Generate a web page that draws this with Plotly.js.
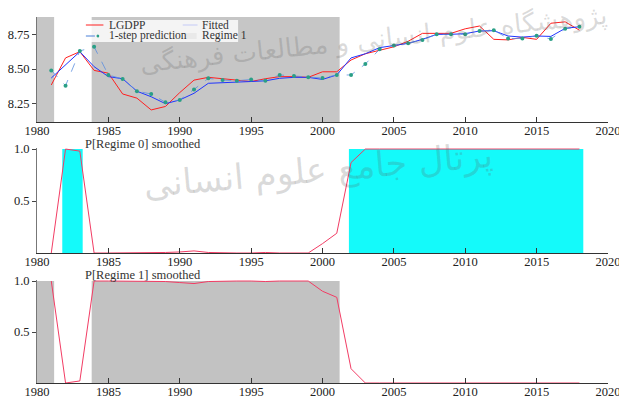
<!DOCTYPE html>
<html>
<head>
<meta charset="utf-8">
<script src="https://cdn.plot.ly/plotly-3.0.1.min.js"></script>
<style>html,body{margin:0;padding:0;background:#fff;}#chart{width:619px;height:400px;}</style>
</head>
<body>
<div id="chart"></div>
<script>
// ---- data ----
const years = [1981,1982,1983,1984,1985,1986,1987,1988,1989,1990,1991,1992,1993,1994,1995,1996,1997,1998,1999,2000,2001,2002,2003,2004,2005,2006,2007,2008,2009,2010,2011,2012,2013,2014,2015,2016,2017,2018];
const lgdpp = [8.385,8.58,8.625,8.49,8.47,8.32,8.29,8.205,8.23,8.33,8.42,8.44,8.43,8.42,8.41,8.43,8.445,8.445,8.44,8.48,8.48,8.565,8.61,8.635,8.66,8.70,8.757,8.757,8.757,8.79,8.81,8.714,8.71,8.728,8.714,8.83,8.84,8.78];
const fitted = [8.435,8.53,8.625,8.517,8.445,8.43,8.34,8.30,8.25,8.277,8.325,8.397,8.40,8.405,8.41,8.415,8.433,8.44,8.44,8.425,8.457,8.58,8.61,8.654,8.67,8.685,8.714,8.75,8.75,8.755,8.774,8.776,8.738,8.73,8.738,8.735,8.793,8.805];
const prediction = [8.49,8.38,8.63,8.66,8.457,8.428,8.34,8.32,8.26,8.277,8.353,8.433,8.42,8.415,8.425,8.415,8.457,8.45,8.44,8.435,8.457,8.457,8.536,8.642,8.67,8.685,8.71,8.75,8.75,8.75,8.774,8.78,8.72,8.72,8.74,8.716,8.79,8.805];
const probRegime0 = [0,1.0,0.98,0,0,0,0,0,0.005,0.01,0.02,0.005,0,0,0,0.005,0,0,0,0.09,0.19,0.87,1,1,1,1,1,1,1,1,1,0.995,1,1,1,1,1,1];
const probRegime1 = [1.0,0,0.02,1,1,1,1,1,0.995,0.985,0.975,0.995,1,1,1,0.995,1,1,1,0.9,0.84,0.14,0,0,0,0,0,0,0,0,0,0.005,0,0,0,0,0,0];
const regime1Start = [1980,1983.83];
const regime1End = [1981.2,2001.2];
const regime0Start = [1981.77,2001.85];
const regime0End = [1983.2,2018.27];
const xTicks = [1980,1985,1990,1995,2000,2005,2010,2015,2020];
const topTicks = [8.25,8.5,8.75];
const topTickText = ['8.25','8.50','8.75'];
const probTicks = [0.5,1.0];
const probTickText = ['0.5','1.0'];

// ---- styling ----
const FONT = 'Liberation Serif';
const H = 400, W = 619;
const dom = (bottomPx, topPx) => [1 - bottomPx / H, 1 - topPx / H];
const px = v => v / W, py = v => 1 - v / H;

function xAxis(anchor) {
  return {
    anchor: anchor, domain: [0, 1], range: [1980, 2020],
    tickvals: xTicks, ticktext: xTicks.map(String),
    ticks: 'inside', ticklen: 5, tickcolor: '#333', tickwidth: 1,
    showline: true, linecolor: '#333', linewidth: 1,
    showgrid: false, zeroline: false,
    ticklabeloverflow: 'allow', ticklabelstandoff: -3,
    tickfont: {family: FONT, size: 12.5, color: '#222'}
  };
}
function yAxis(anchor, domain, range, tv, tt) {
  return {
    anchor: anchor, domain: domain, range: range,
    tickvals: tv, ticktext: tt,
    ticks: 'outside', ticklen: 4, tickcolor: '#444', tickwidth: 1,
    showline: true, linecolor: '#777', linewidth: 1,
    showgrid: false, zeroline: false,
    tickfont: {family: FONT, size: 12.5, color: '#222'}
  };
}

const shapes = [];
regime1Start.forEach((s, i) => {
  shapes.push({type: 'rect', xref: 'x', yref: 'y domain', x0: s, x1: regime1End[i], y0: 0, y1: 1,
    fillcolor: '#c6c6c6', line: {width: 0}, layer: 'below'});
  shapes.push({type: 'rect', xref: 'x3', yref: 'y3', x0: s, x1: regime1End[i], y0: 0, y1: 1,
    fillcolor: '#c2c2c2', line: {width: 0}, layer: 'below'});
});
regime0Start.forEach((s, i) => {
  shapes.push({type: 'rect', xref: 'x2', yref: 'y2', x0: s, x1: regime0End[i], y0: 0, y1: 1,
    fillcolor: '#14fafa', line: {width: 0}, layer: 'below'});
});

// manual legend (paper coords)
shapes.push({type: 'rect', xref: 'paper', yref: 'paper', x0: px(48), x1: px(218), y0: py(42), y1: py(20),
  fillcolor: 'rgba(255,255,255,0.8)', line: {width: 0}, layer: 'above'});
shapes.push({type: 'line', xref: 'paper', yref: 'paper', x0: px(53), x1: px(72), y0: py(25), y1: py(25),
  line: {color: '#ff2020', width: 1}, layer: 'above'});
shapes.push({type: 'line', xref: 'paper', yref: 'paper', x0: px(53), x1: px(72), y0: py(36), y1: py(36),
  line: {color: '#4a80d8', width: 1, dash: 'dash'}, layer: 'above'});
shapes.push({type: 'circle', xref: 'paper', yref: 'paper', x0: px(64.5), x1: px(67.5), y0: py(37.5), y1: py(34.5),
  fillcolor: '#2a9f86', line: {width: 0}, layer: 'above'});
shapes.push({type: 'line', xref: 'paper', yref: 'paper', x0: px(158), x1: px(174), y0: py(25), y1: py(25),
  line: {color: 'rgba(60,80,255,0.25)', width: 1}, layer: 'above'});
shapes.push({type: 'rect', xref: 'paper', yref: 'paper', x0: px(160), x1: px(173), y0: py(39), y1: py(33),
  fillcolor: 'rgba(200,200,200,0.25)', line: {width: 0}, layer: 'above'});

const legText = (t, x, y) => ({text: t, xref: 'paper', yref: 'paper', x: px(x), y: py(y),
  xanchor: 'left', yanchor: 'middle', showarrow: false, font: {family: FONT, size: 11.5, color: '#333'}});

const annotations = [
  legText('LGDPP', 76, 25),
  legText('1-step prediction', 76, 36),
  legText('Fitted', 177, 25),
  legText('Regime 1', 177, 36),
  {text: 'P[Regime 0] smoothed', xref: 'paper', yref: 'paper', x: px(50), y: py(143.5), xanchor: 'left', yanchor: 'middle',
   showarrow: false, font: {family: FONT, size: 12.5, color: '#333'}},
  {text: 'P[Regime 1] smoothed', xref: 'paper', yref: 'paper', x: px(50), y: py(274.5), xanchor: 'left', yanchor: 'middle',
   showarrow: false, font: {family: FONT, size: 12.5, color: '#333'}},
  // faint watermark text present in the reference image
  {text: 'پژوهشگاه علوم انسانی و مطالعات فرهنگی', xref: 'paper', yref: 'paper', x: px(365), y: py(40),
   xanchor: 'center', yanchor: 'middle', showarrow: false, textangle: -6,
   font: {family: 'DejaVu Sans', size: 26, color: 'rgba(90,90,90,0.22)'}},
  {text: 'پرتال جامع علوم انسانی', xref: 'paper', yref: 'paper', x: px(305), y: py(170),
   xanchor: 'center', yanchor: 'middle', showarrow: false, textangle: -5,
   font: {family: 'DejaVu Sans', size: 35, color: 'rgba(90,90,90,0.22)'}}
];

const traces = [
  {x: years, y: lgdpp, xaxis: 'x', yaxis: 'y', mode: 'lines', name: 'LGDPP',
   line: {color: '#ff2020', width: 1}},
  {x: years, y: fitted, xaxis: 'x', yaxis: 'y', mode: 'lines', name: 'Fitted',
   line: {color: '#2035ff', width: 1}},
  {x: years, y: prediction, xaxis: 'x', yaxis: 'y', mode: 'lines+markers', name: '1-step prediction',
   line: {color: '#5a8ee0', width: 0.8, dash: 'dash'}, marker: {color: '#2a9f86', size: 4}},
  {x: years, y: probRegime0, xaxis: 'x2', yaxis: 'y2', mode: 'lines', name: 'P[Regime 0] smoothed',
   line: {color: '#f23c64', width: 1}},
  {x: years, y: probRegime1, xaxis: 'x3', yaxis: 'y3', mode: 'lines', name: 'P[Regime 1] smoothed',
   line: {color: '#f23c64', width: 1}}
];

const layout = {
  width: 619, height: 400,
  margin: {l: 37, r: 11, t: 0, b: 0},
  paper_bgcolor: '#fff', plot_bgcolor: 'rgba(0,0,0,0)',
  showlegend: false,
  font: {family: FONT, color: '#222'},
  xaxis: xAxis('y'),
  yaxis: yAxis('x', dom(122, 17), [8.118, 8.875], topTicks, topTickText),
  xaxis2: xAxis('y2'),
  yaxis2: yAxis('x2', dom(253, 148), [0, 1.01], probTicks, probTickText),
  xaxis3: xAxis('y3'),
  yaxis3: yAxis('x3', dom(383, 280), [0, 1.01], probTicks, probTickText),
  shapes: shapes,
  annotations: annotations
};

Plotly.newPlot('chart', traces, layout, {staticPlot: true, displayModeBar: false});
</script>
</body>
</html>
